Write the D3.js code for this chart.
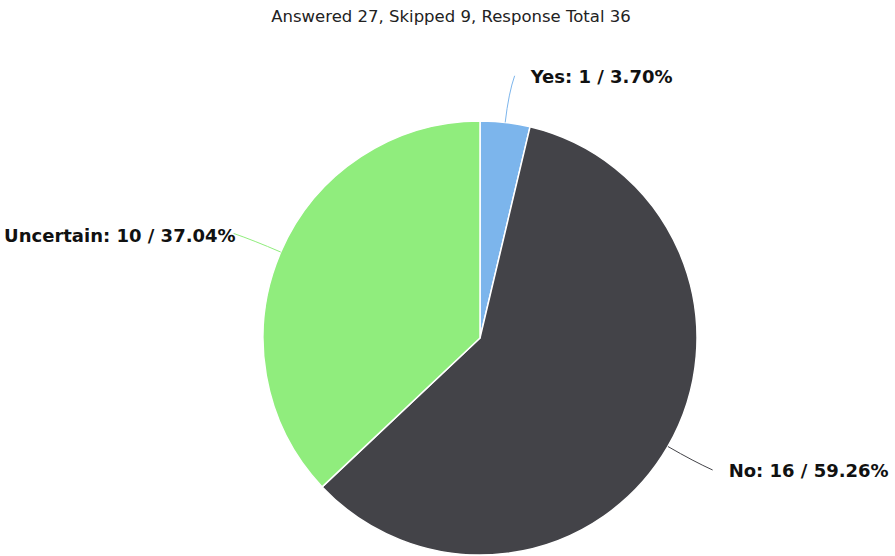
<!DOCTYPE html>
<html lang="en">
<head>
<meta charset="UTF-8">
<title>Response pie</title>
<script src="https://d3js.org/d3.v7.min.js"></script>
<style>
    body { margin: 0; background: #ffffff; }
    .title { font-family: "DejaVu Sans", Verdana, sans-serif; font-size: 16.5px; fill: #222222; }
    .slice-label { font-family: "DejaVu Sans", Verdana, sans-serif; font-size: 18px; font-weight: bold; fill: #111111; }
</style>
</head>
<body>
<div id="chart"></div>
<script>
    // Data
    const categories = ["Yes", "No", "Uncertain"];
    const counts = [1, 16, 10];
    const percents = ["3.70", "59.26", "37.04"];
    const colors = ["#7cb5ec", "#434348", "#90ed7d"];
    const titleText = "Answered 27, Skipped 9, Response Total 36";

    const W = 895, H = 556;
    const cx = 480, cy = 338, radius = 217;

    const svg = d3.select("#chart").append("svg")
        .attr("width", W)
        .attr("height", H);

    svg.append("text")
        .attr("class", "title")
        .attr("x", 451)
        .attr("y", 22)
        .attr("text-anchor", "middle")
        .text(titleText);

    const rows = categories.map((c, i) => ({ name: c, value: counts[i], pct: percents[i], color: colors[i] }));

    const pie = d3.pie().sort(null).value(d => d.value);
    const arc = d3.arc().innerRadius(0).outerRadius(radius);

    const g = svg.append("g").attr("transform", `translate(${cx},${cy})`);
    const arcs = pie(rows);

    g.selectAll("path.slice")
        .data(arcs)
        .enter()
        .append("path")
        .attr("class", "slice")
        .attr("d", arc)
        .attr("fill", d => d.data.color)
        .attr("stroke", "#ffffff")
        .attr("stroke-width", 1.5)
        .attr("stroke-linejoin", "round");

    // connectors + labels
    const polar = (r, a) => [r * Math.sin(a), -r * Math.cos(a)];

    arcs.forEach(d => {
        const mid = (d.startAngle + d.endAngle) / 2;
        const right = Math.sin(mid) >= 0;
        const p0 = polar(radius, mid);
        const p1 = polar(radius + 30, mid);
        const p2 = polar(radius + 47, mid);
        const end = [p2[0] + (right ? 4 : -4), p2[1]];

        g.append("path")
            .attr("d", `M${p0[0]},${p0[1]} Q${p1[0]},${p1[1]} ${end[0]},${end[1]}`)
            .attr("fill", "none")
            .attr("stroke", d.data.color)
            .attr("stroke-width", 1);

        g.append("text")
            .attr("class", "slice-label")
            .attr("x", right ? end[0] + 16 : end[0] + 2)
            .attr("y", end[1] + (right ? 7 : 9))
            .attr("text-anchor", right ? "start" : "end")
            .text(`${d.data.name}: ${d.data.value} / ${d.data.pct}%`);
    });
</script>
</body>
</html>
